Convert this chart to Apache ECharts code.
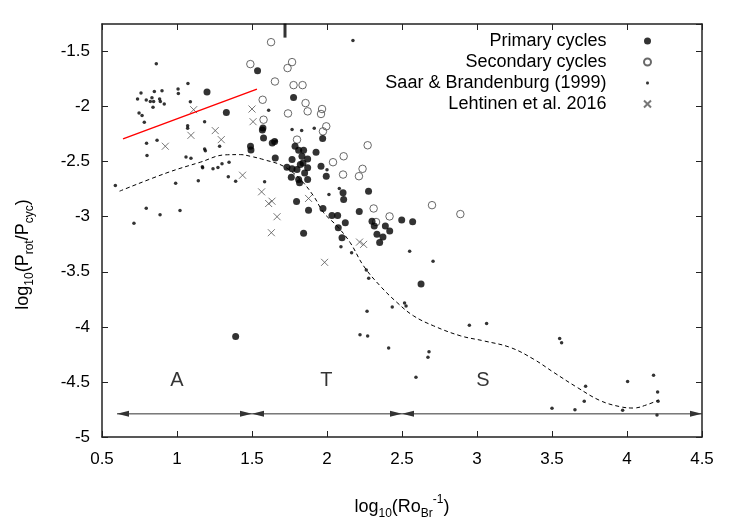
<!DOCTYPE html>
<html>
<head>
<meta charset="utf-8">
<script src="https://cdn.jsdelivr.net/npm/echarts@6/dist/echarts.min.js"></script>
<style>
  html, body { margin: 0; padding: 0; background: #fff; }
  #chart { width: 750px; height: 525px; }
</style>
</head>
<body>
<div id="chart"></div>
<script>
// values: [log10(Ro^-1), log10(Prot/Pcyc)]
const primaryCycles = [
  [1.2,-1.868],[1.329,-2.053],[1.537,-1.675],[1.49,-2.36],[1.493,-2.395],[1.573,-2.194],
  [1.569,-2.212],[1.577,-2.284],[1.635,-2.33],[1.651,-2.318],[1.777,-1.917],[1.971,-2.29],
  [1.787,-2.36],[1.811,-2.397],[1.844,-2.397],[1.927,-2.415],[1.655,-2.466],[1.797,-2.861],
  [1.877,-2.94],[1.844,-3.151],[1.391,-4.087],[1.733,-2.551],[1.767,-2.481],[1.767,-2.565],
  [1.8,-2.571],[1.833,-2.451],[1.84,-2.511],[1.871,-2.475],[1.871,-2.556],[1.851,-2.602],
  [1.822,-2.526],[1.762,-2.641],[1.811,-2.662],[1.817,-2.692],[1.871,-2.662],[1.96,-2.542],
  [1.995,-2.632],[1.973,-2.925],[2.033,-2.988],[2.071,-2.988],[2.075,-3.1],[2.122,-3.054],
  [2.1,-3.19],[2.107,-2.783],[2.111,-2.843],[2.215,-2.952],[2.277,-2.768],[2.3,-3.04],
  [2.315,-3.085],[2.333,-3.16],[2.351,-3.235],[2.389,-3.085],[2.418,-3.13],[2.373,-3.185],
  [2.498,-3.03],[2.571,-3.045],[2.627,-3.611]
];

const secondaryCycles = [
  [1.627,-1.415],[1.489,-1.614],[1.767,-1.596],[1.737,-1.65],[1.653,-1.772],[1.777,-1.805],
  [1.837,-1.805],[1.571,-1.938],[1.857,-1.968],[1.74,-2.062],[1.871,-2.043],[1.967,-2.022],
  [1.96,-2.067],[1.577,-2.119],[1.995,-2.179],[1.973,-2.225],[1.8,-2.3],[2.271,-2.351],
  [2.111,-2.451],[2.04,-2.505],[2.107,-2.617],[2.237,-2.565],[2.213,-2.632],[2.7,-2.895],
  [2.311,-2.925],[2.417,-2.997],[2.327,-3.048],[2.889,-2.976]
];

const saarBrandenburg = [
  [0.862,-1.61],[0.76,-1.877],[0.737,-1.93],[0.795,-1.94],[0.833,-1.92],[0.822,-1.953],
  [0.844,-1.953],[0.849,-1.862],[0.9,-1.856],[0.884,-1.93],[0.889,-1.953],[0.915,-1.976],
  [0.84,-2.007],[0.747,-2.058],[0.767,-2.08],[0.782,-2.143],[1.007,-1.84],[1.009,-1.88],
  [1.073,-1.79],[1.089,-1.956],[1.184,-2.137],[1.071,-2.173],[1.071,-2.197],[0.797,-2.333],
  [0.867,-2.306],[0.8,-2.445],[1.184,-2.384],[1.189,-2.4],[1.284,-2.36],[1.06,-2.457],
  [1.093,-2.469],[1.169,-2.547],[1.171,-2.556],[1.24,-2.565],[1.273,-2.553],[1.3,-2.52],
  [1.347,-2.505],[1.342,-2.638],[1.391,-2.678],[1.142,-2.674],[0.991,-2.696],[0.589,-2.716],
  [0.795,-2.922],[0.887,-2.982],[1.02,-2.943],[0.713,-3.06],[1.584,-2.683],[2.173,-1.40],
  [1.611,-2.034],[1.767,-2.209],[1.831,-2.218],[1.915,-2.197],[1.66,-2.312],[2.013,-2.798],
  [2.082,-2.744],[2.0,-2.574],[2.093,-3.272],[2.164,-3.326],[2.262,-3.484],[2.278,-3.559],
  [2.267,-3.858],[2.22,-4.072],[2.271,-4.084],[2.411,-4.193],[2.435,-3.819],[2.517,-3.783],
  [2.527,-3.81],[2.551,-3.314],[2.707,-3.405],[2.949,-3.985],[3.064,-3.969],[2.673,-4.277],
  [2.68,-4.226],[2.593,-4.458],[3.551,-4.105],[3.564,-4.145],[3.5,-4.74],[3.653,-4.752],
  [3.724,-4.54],[3.715,-4.676],[4.004,-4.495],[3.971,-4.757],[4.177,-4.44],[4.204,-4.591],
  [4.207,-4.676],[4.2,-4.80]
];

const lehtinen2016 = [
  [1.111,-2.028],[1.093,-2.261],[0.922,-2.36],[1.255,-2.218],[1.295,-2.3],[1.437,-2.623],
  [1.5,-2.022],[1.507,-2.137],[1.564,-2.774],[1.633,-2.859],[1.611,-2.88],[1.667,-3.0],
  [1.629,-3.145],[1.877,-2.834],[1.984,-3.414],[2.217,-3.23],[2.244,-3.251]
];

// dashed trend curve
const trendCurve = [
  [0.617,-2.768],[0.933,-2.601],[1.155,-2.505],[1.322,-2.438],[1.422,-2.436],[1.489,-2.451],
  [1.577,-2.481],[1.711,-2.542],[1.822,-2.662],[1.911,-2.813],[1.978,-2.964],[2.067,-3.085],
  [2.155,-3.236],[2.244,-3.447],[2.355,-3.629],[2.467,-3.779],[2.577,-3.9],[2.711,-3.991],
  [2.889,-4.081],[3.044,-4.127],[3.222,-4.187],[3.377,-4.293],[3.511,-4.413],[3.667,-4.549],
  [3.822,-4.67],[3.955,-4.725],[4.044,-4.737],[4.133,-4.707],[4.211,-4.664]
];

// red line
const redLine = [[0.64,-2.293],[1.533,-1.841]];

// regime arrows along the bottom and their labels
const regimeBounds = [[0.6,1.5],[1.5,2.5],[2.5,4.5]];
const regimeArrowY = -4.79;
const regimeLabels = ['A','T','S'];
const regimeLabelX = [1.0,1.995,3.04];
const regimeLabelY = -4.49;

// marker above the plot
const topMarker = [[1.72,-1.31]];

const xTicks = { min: 0.5, max: 4.5, interval: 0.5 };
const yTicks = { min: -5, max: -1.25, interval: 0.5 };

const FONT = 'Liberation Sans';
const frameLine = { show: true, lineStyle: { color: '#222', width: 1.5 } };
const innerTick = { show: true, inside: true, length: 6, lineStyle: { color: '#222', width: 1 } };
const headRight = 'path://M0,0L12,3L0,6Z';
const headLeft = 'path://M12,0L0,3L12,6Z';

const nameRich = {
  n: { fontFamily: FONT, fontSize: 18, color: '#000', lineHeight: 26 },
  s: { fontFamily: FONT, fontSize: 12, color: '#000', verticalAlign: 'bottom', lineHeight: 26 },
  p: { fontFamily: FONT, fontSize: 12, color: '#000', verticalAlign: 'top', lineHeight: 26 }
};

const chart = echarts.init(document.getElementById('chart'), null, { renderer: 'canvas' });

chart.setOption({
  animation: false,
  backgroundColor: '#fff',
  textStyle: { fontFamily: FONT },
  grid: { left: 102, right: 48, top: 24, bottom: 87 },
  legend: {
    orient: 'vertical',
    align: 'right',
    right: 98,
    top: 32,
    padding: 0,
    itemGap: 3,
    itemWidth: 72,
    itemHeight: 7,
    selectedMode: false,
    textStyle: { fontFamily: FONT, fontSize: 18, color: '#000' },
    data: [
      { name: 'Primary cycles', icon: 'circle' },
      { name: 'Secondary cycles', icon: 'circle' },
      { name: 'Saar & Brandenburg (1999)', icon: 'path://M0,0M10,10M4,3L6,3L7,4L7,6L6,7L4,7L3,6L3,4Z' },
      { name: 'Lehtinen et al. 2016', icon: 'path://M0,0L10,10M10,0L0,10' }
    ]
  },
  xAxis: [
    {
      type: 'value', position: 'bottom', ...xTicks,
      axisLine: frameLine, axisTick: innerTick, splitLine: { show: false },
      axisLabel: { fontFamily: FONT, fontSize: 17, color: '#000', margin: 14 },
      name: '{n|log}{s|10}{n|(Ro}{s|Br}{p|-1}{n|)}',
      nameLocation: 'middle', nameGap: 57,
      nameTextStyle: { rich: nameRich }
    },
    {
      type: 'value', position: 'top', ...xTicks,
      axisLine: frameLine, axisTick: innerTick, splitLine: { show: false },
      axisLabel: { show: false }
    }
  ],
  yAxis: [
    {
      type: 'value', position: 'left', ...yTicks,
      axisLine: frameLine, axisTick: innerTick, splitLine: { show: false },
      axisLabel: { fontFamily: FONT, fontSize: 17, color: '#000', margin: 12, showMaxLabel: false },
      name: '{n|log}{s|10}{n|(P}{s|rot}{n|/P}{s|cyc}{n|)}',
      nameLocation: 'middle', nameGap: 66,
      nameTextStyle: { padding: [0, 48, 0, 0], rich: nameRich }
    },
    {
      type: 'value', position: 'right', ...yTicks,
      axisLine: frameLine, axisTick: innerTick, splitLine: { show: false },
      axisLabel: { show: false }
    }
  ],
  series: [
    {
      name: 'Saar & Brandenburg (1999)', type: 'scatter', data: saarBrandenburg,
      symbol: 'circle', symbolSize: 3.5, itemStyle: { color: '#000' }, silent: true
    },
    {
      name: 'Lehtinen et al. 2016', type: 'scatter', data: lehtinen2016,
      symbol: 'path://M0,0L10,10M10,0L0,10', symbolSize: 7,
      itemStyle: { color: 'rgba(0,0,0,0)', borderColor: '#555', borderWidth: 1 }, silent: true
    },
    {
      name: 'Secondary cycles', type: 'scatter', data: secondaryCycles,
      symbol: 'circle', symbolSize: 7.5,
      itemStyle: { color: 'rgba(0,0,0,0)', borderColor: '#444', borderWidth: 1 }, silent: true
    },
    {
      name: 'Primary cycles', type: 'scatter', data: primaryCycles,
      symbol: 'circle', symbolSize: 7, itemStyle: { color: '#000' }, silent: true
    },
    {
      name: 'trend', type: 'line', data: trendCurve, smooth: 0.4, symbol: 'none',
      lineStyle: { color: '#000', width: 1, type: [4, 3] }, silent: true
    },
    {
      name: 'red', type: 'line', data: redLine, symbol: 'none',
      lineStyle: { color: '#ff0000', width: 1.5 }, silent: true
    },
    {
      name: 'regime line', type: 'line', symbol: 'none', silent: true,
      data: [[regimeBounds[0][0], regimeArrowY], [regimeBounds[regimeBounds.length - 1][1], regimeArrowY]],
      lineStyle: { color: '#333', width: 1 }
    },
    {
      name: 'regime heads right', type: 'scatter', clip: false, silent: true,
      data: regimeBounds.map(b => [b[1], regimeArrowY]),
      symbol: headRight, symbolSize: [12, 6], symbolOffset: [-6, 0], itemStyle: { color: '#000' }
    },
    {
      name: 'regime heads left', type: 'scatter', clip: false, silent: true,
      data: regimeBounds.map(b => [b[0], regimeArrowY]),
      symbol: headLeft, symbolSize: [12, 6], symbolOffset: [6, 0], itemStyle: { color: '#000' }
    },
    {
      name: 'regime labels', type: 'scatter', symbol: 'circle', symbolSize: 1,
      itemStyle: { color: 'rgba(0,0,0,0)' },
      data: regimeLabels.map((t, i) => ({ name: t, value: [regimeLabelX[i], regimeLabelY] })),
      label: { show: true, position: 'inside', formatter: '{b}', fontFamily: FONT, fontSize: 20, color: '#000' },
      silent: true
    },
    {
      name: 'marker', type: 'scatter', data: topMarker, clip: false,
      symbol: 'rect', symbolSize: [3, 14], itemStyle: { color: '#000' }, silent: true
    }
  ]
});
</script>
</body>
</html>
